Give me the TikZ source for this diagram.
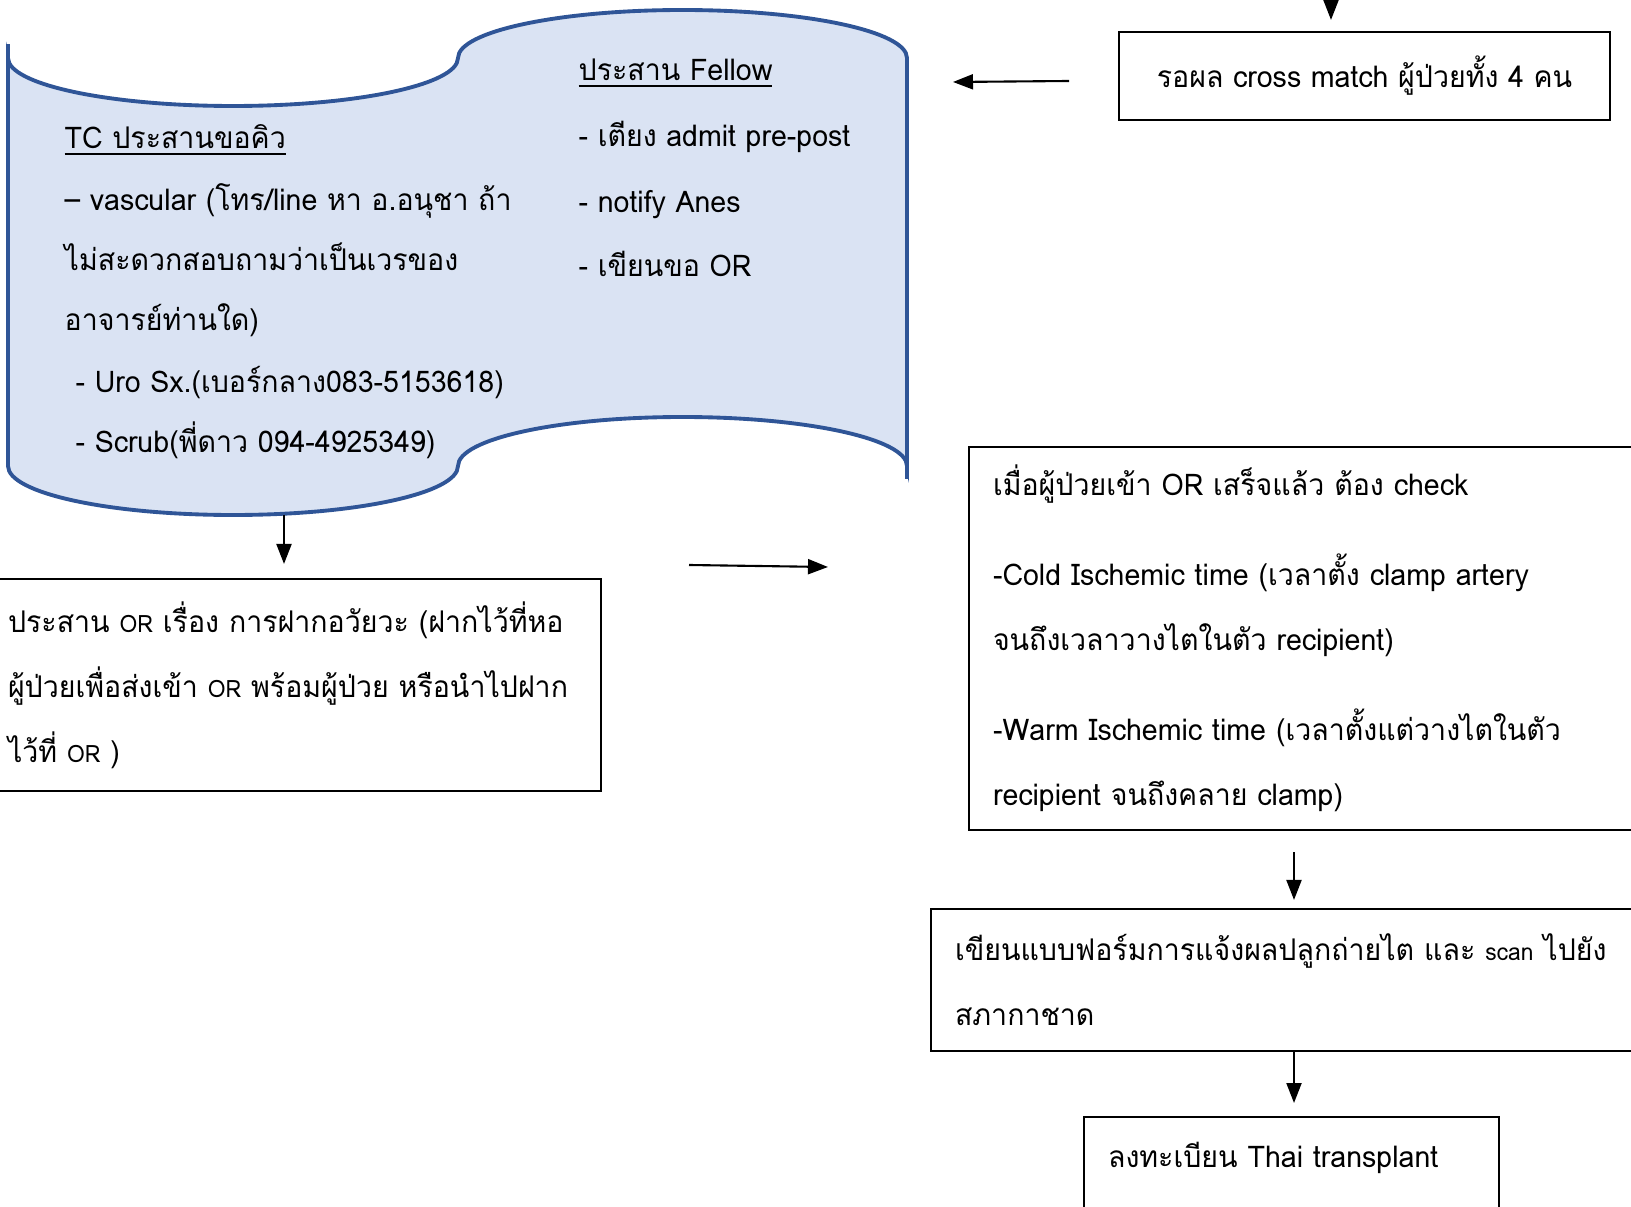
\documentclass[tikz,border=0pt]{standalone}
\usepackage{fontspec}
\setmainfont[Script=Thai, FakeStretch=0.955]{Loma}
\usetikzlibrary{positioning, arrows.meta}
\definecolor{wavefill}{HTML}{DAE3F3}
\definecolor{waveline}{HTML}{2F5597}
\newcommand{\smalltxt}[1]{{\fontsize{6.8}{18.5}\selectfont #1}}

\begin{document}
\begin{tikzpicture}[
    every node/.style={font=\fontsize{8.5}{18.5}\selectfont},
    box/.style={draw, line width=0.6pt, rectangle, align=left, inner ysep=0pt},
    txt/.style={anchor=west, inner sep=0pt, text height=0.22cm, text depth=0.08cm},
    arr/.style={-{Triangle[length=0.2cm, width=0.15cm]}, line width=0.6pt}
]
    \useasboundingbox (0,0) rectangle (16.31,12.06);
    \clip (0,0) rectangle (16.31,12.06);

    % wave shape
    \path[fill=wavefill, draw=waveline, line width=1.1pt]
        (0.08,11.48) arc[start angle=180, end angle=360, x radius=2.25, y radius=0.48]
        arc[start angle=180, end angle=0, x radius=2.245, y radius=0.48]
        -- (9.07,7.40)
        arc[start angle=0, end angle=180, x radius=2.245, y radius=0.49]
        arc[start angle=0, end angle=-180, x radius=2.25, y radius=0.49]
        -- cycle;
    \draw[waveline, line width=1.1pt] (0.08,11.48) -- (0.08,11.62);
    \draw[waveline, line width=1.1pt] (9.07,7.40) -- (9.07,7.27);

    \node[txt] (fellow) at (5.78,11.32) {\underline{ประสาน Fellow}};
    \node[txt] (bed) at (5.78,10.66) {- เตียง admit pre-post};
    \node[txt] (anes) at (5.78,10.00) {- notify Anes};
    \node[txt] (askor) at (5.78,9.36) {- เขียนขอ OR};

    \node[txt] (tcq) at (0.64,10.64) {\underline{TC ประสานขอคิว}};
    \node[txt] (vasc) at (0.64,10.02) {– vascular (โทร/line หา อ.อนุชา ถ้า};
    \node[txt] (vasc2) at (0.64,9.42) {ไม่สะดวกสอบถามว่าเป็นเวรของ};
    \node[txt] (vasc3) at (0.64,8.82) {อาจารย์ท่านใด)};
    \node[txt] (uro) at (0.75,8.20) {- Uro Sx.(เบอร์กลาง083-5153618)};
    \node[txt] (scrub) at (0.75,7.60) {- Scrub(พี่ดาว 094-4925349)};

    % boxes
    \node[box, minimum width=4.91cm, minimum height=0.88cm, align=center] (cm) at (13.645,11.30)
        {รอผล cross match ผู้ป่วยทั้ง 4 คน};
    \node[box, text width=5.75cm, inner xsep=0.18cm, minimum height=2.12cm] (orbox) at (2.955,5.21)
        {\mbox{ประสาน \smalltxt{OR} เรื่อง การฝากอวัยวะ (ฝากไว้ที่หอ}\\
         \mbox{ผู้ป่วยเพื่อส่งเข้า \smalltxt{OR} พร้อมผู้ป่วย หรือนำไปฝาก}\\
         \mbox{ไว้ที่ \smalltxt{OR} )}};
    \node[box, text width=6.43cm, inner xsep=0.24cm, minimum height=3.83cm] (chk) at (13.145,5.675)
        {\mbox{เมื่อผู้ป่วยเข้า OR เสร็จแล้ว ต้อง check}\\[0.25cm]
         \mbox{-Cold Ischemic time (เวลาตั้ง clamp artery}\\
         \mbox{จนถึงเวลาวางไตในตัว recipient)}\\[0.25cm]
         \mbox{-Warm Ischemic time (เวลาตั้งแต่วางไตในตัว}\\
         \mbox{recipient จนถึงคลาย clamp)}};
    \node[box, text width=6.81cm, inner xsep=0.24cm, minimum height=1.42cm] (scan) at (12.955,2.26)
        {\mbox{เขียนแบบฟอร์มการแจ้งผลปลูกถ่ายไต และ \smalltxt{scan} ไปยัง}\\
         \mbox{สภากาชาด}};
    \node[box, anchor=north, text width=3.67cm, inner xsep=0.24cm, inner ysep=0.1cm,
        text height=0.40cm, text depth=0.9cm] (thai) at (12.915,0.90)
        {\mbox{ลงทะเบียน Thai transplant}};

    % arrows
    \coordinate (topin) at (13.31,12.10);
    \coordinate (fromcm) at (10.69,11.25);
    \coordinate (towave) at (9.53,11.24);
    \coordinate (wavebot) at (2.84,6.91);
    \coordinate (fromor) at (6.89,6.41);
    \coordinate (tochk) at (8.28,6.39);
    \coordinate (colx) at (12.94,0);

    \draw[arr, shorten >=0.11cm] (topin) -- (topin |- cm.north);
    \draw[arr] (fromcm) -- (towave);
    \draw[arr, shorten >=0.14cm] (wavebot) -- (wavebot |- orbox.north);
    \draw[arr] (fromor) -- (tochk);
    \draw[arr, shorten <=0.21cm, shorten >=0.08cm] (colx |- chk.south) -- (colx |- scan.north);
    \draw[arr, shorten >=0.13cm] (colx |- scan.south) -- (colx |- thai.north);
\end{tikzpicture}
\end{document}
